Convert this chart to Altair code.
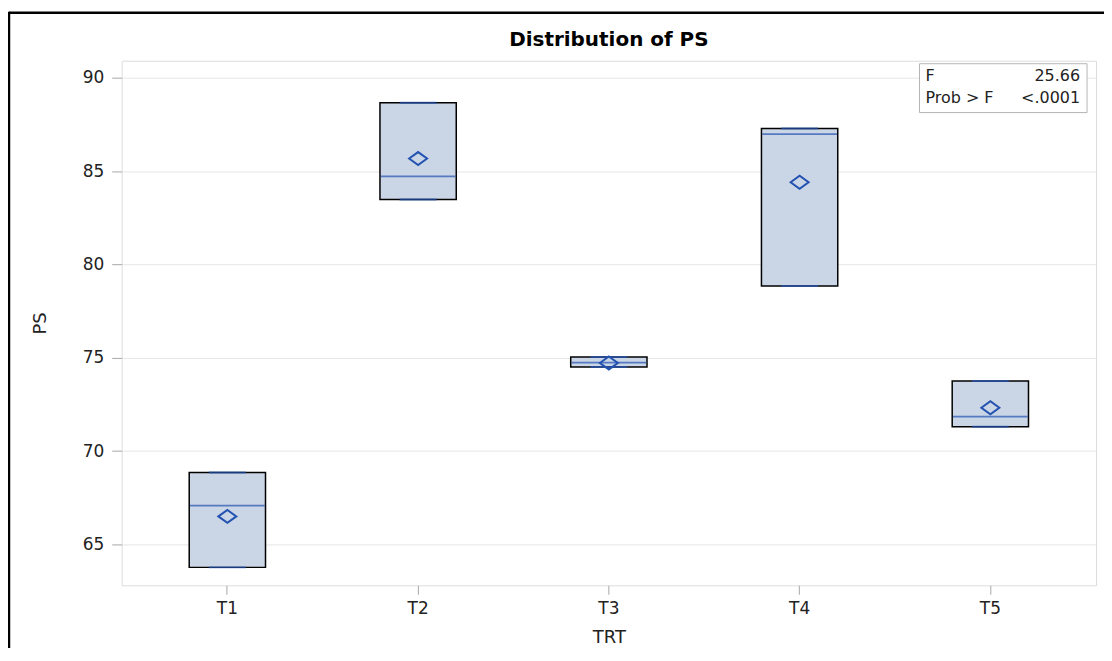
import altair as alt
import pandas as pd

# ---- data ----
trt = ["T1", "T2", "T3", "T4", "T5"]
q1 = [63.77, 83.48, 74.51, 78.84, 71.30]
q3 = [68.85, 88.66, 75.04, 87.28, 73.76]
median = [67.08, 84.71, 74.74, 86.98, 71.84]
mean = [66.50, 85.67, 74.72, 84.40, 72.32]
y_ticks = [65, 70, 75, 80, 85, 90]
y_domain = [62.81, 90.91]
stat_labels = ["F", "Prob > F"]
stat_values = ["25.66", "<.0001"]
chart_title = "Distribution of PS"

df = pd.DataFrame(dict(TRT=trt, q1=q1, q3=q3, median=median, mean=mean))
one = pd.DataFrame({"k": [0]})

FONT = "DejaVu Sans"
FILL = "#CAD5E6"
BLUE = "#2452B0"
GRID = "#E6E6E6"
BORDER = "#A8A8A8"
TXT = "#222222"
W, H = 977, 526

xscale = alt.Scale(domain=trt, paddingInner=0.6, paddingOuter=0.354)
yscale = alt.Scale(domain=y_domain, nice=False, zero=False)

xaxis = alt.Axis(labelAngle=0, tickSize=9, tickColor=BORDER, labelPadding=6,
                 labelFontSize=17, labelColor=TXT, domain=False, grid=False,
                 titleFontSize=18, titleFontWeight="normal", titleColor=TXT,
                 titleY=52, titleBaseline="middle")
yaxis = alt.Axis(values=y_ticks, tickSize=10, tickColor=BORDER, labelPadding=8,
                 labelFontSize=17, labelColor=TXT, domain=False, grid=True,
                 gridColor=GRID, titleFontSize=18, titleFontWeight="normal",
                 titleColor=TXT, titleX=-81, titleY=H / 2, titleAngle=270,
                 titleAlign="center", titleBaseline="middle")

X = alt.X("TRT:N", scale=xscale, axis=xaxis, title="TRT")


def Y(field):
    return alt.Y(f"{field}:Q", scale=yscale, axis=yaxis, title="PS")


base = alt.Chart(df)

box = base.mark_bar(fill=FILL, stroke="black", strokeWidth=1.5).encode(
    x=X, y=Y("q1"), y2="q3")
cap_lo = base.mark_tick(color=BLUE, thickness=2, size=37).encode(x=X, y=Y("q1"))
cap_hi = base.mark_tick(color=BLUE, thickness=2, size=37).encode(x=X, y=Y("q3"))
med = base.mark_tick(color=BLUE, thickness=1.8, size=75).encode(x=X, y=Y("median"))
mn = base.mark_point(shape="M-1,0L0,-0.72L1,0L0,0.72Z", size=324, filled=False,
                     stroke=BLUE, strokeWidth=2, opacity=1).encode(x=X, y=Y("mean"))

# ---- annotations (title, statistics inset, outer frame) ----
title = alt.Chart(one).mark_text(text=chart_title, font=FONT, fontSize=20,
                                 fontWeight="bold", color="black",
                                 baseline="middle", align="center").encode(
    x=alt.value(W / 2), y=alt.value(-21))

inset = alt.Chart(one).mark_rect(fill="white", stroke="#B5B5B5", strokeWidth=1).encode(
    x=alt.value(800), x2=alt.value(968), y=alt.value(3), y2=alt.value(52))

stat_layers = []
for i, (lab, val) in enumerate(zip(stat_labels, stat_values)):
    ypos = 15 + 22 * i
    stat_layers.append(alt.Chart(one).mark_text(
        text=lab, font=FONT, fontSize=16, color=TXT, align="left",
        baseline="middle").encode(x=alt.value(806), y=alt.value(ypos)))
    stat_layers.append(alt.Chart(one).mark_text(
        text=val, font=FONT, fontSize=16, color=TXT, align="right",
        baseline="middle").encode(x=alt.value(961), y=alt.value(ypos)))

frame_top = alt.Chart(one).mark_rule(color="black", strokeWidth=2.5).encode(
    x=alt.value(-113), x2=alt.value(1000), y=alt.value(-48))
frame_left = alt.Chart(one).mark_rule(color="black", strokeWidth=2.5).encode(
    x=alt.value(-113), y=alt.value(-49), y2=alt.value(700))

chart = alt.layer(
    box, cap_lo, cap_hi, med, mn, inset, *stat_layers, title, frame_top, frame_left
).properties(
    width=W, height=H,
    autosize=alt.AutoSizeParams(type="none"),
    padding={"left": 114, "top": 52, "right": 8, "bottom": 62},
).configure_view(stroke=BORDER, strokeWidth=1.5).configure(font=FONT)

chart.save("out.html", embed_options={"renderer": "svg", "actions": False})
